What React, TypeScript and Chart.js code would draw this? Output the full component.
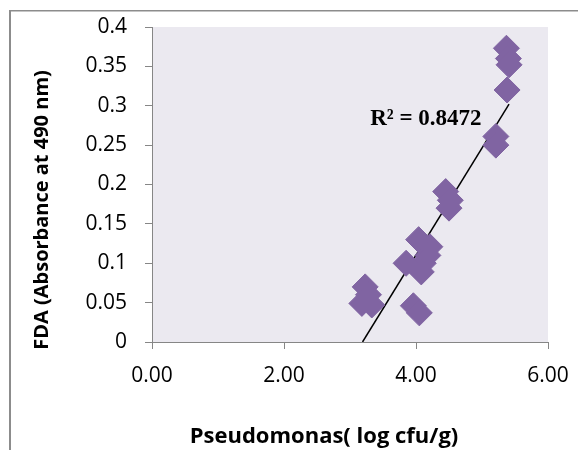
import React, { useEffect, useRef } from "react";
import { Chart, registerables } from "chart.js";

Chart.register(...registerables);

const xValues = [5.37, 5.40, 5.41, 5.38, 5.21, 5.21, 4.45, 4.52, 4.50, 4.04, 4.21, 4.18, 4.11, 3.85, 4.08, 3.23, 3.28, 3.18, 3.33, 3.96, 4.05];
const yValues = [0.373, 0.360, 0.352, 0.320, 0.261, 0.250, 0.191, 0.180, 0.170, 0.130, 0.121, 0.110, 0.100, 0.100, 0.089, 0.070, 0.060, 0.049, 0.047, 0.046, 0.037];
const trendX = [3.19, 5.41];
const trendY = [0, 0.302];
const xTickLabels = ["0.00", "2.00", "4.00", "6.00"];
const yTickLabels = ["0", "0.05", "0.1", "0.15", "0.2", "0.25", "0.3", "0.35", "0.4"];
const r2Label = "R² = 0.8472";
const r2Pos = { x: 4.15, y: 0.283 };
const xTitle = "Pseudomonas( log cfu/g)";
const yTitle = "FDA (Absorbance at 490 nm)";

const decorPlugin = {
  id: "decor",
  beforeDraw(chart: any) {
    const { ctx, chartArea } = chart;
    ctx.save();
    ctx.fillStyle = "#ffffff";
    ctx.fillRect(0, 0, chart.width, chart.height);
    ctx.fillStyle = "#EBE9F0";
    ctx.fillRect(chartArea.left, chartArea.top, chartArea.right - chartArea.left, chartArea.bottom - chartArea.top);
    ctx.restore();
  },
  afterDraw(chart: any) {
    const { ctx, scales } = chart;
    ctx.save();
    ctx.fillStyle = "#8c8c8c";
    ctx.fillRect(9, 10, chart.width - 9, 1.5);
    ctx.fillRect(9, 10, 2, chart.height - 10);
    ctx.fillStyle = "#000";
    ctx.font = "bold 23px 'Liberation Serif', 'Times New Roman', serif";
    ctx.textAlign = "center";
    ctx.textBaseline = "middle";
    ctx.fillText(r2Label, scales.x.getPixelForValue(r2Pos.x), scales.y.getPixelForValue(r2Pos.y));
    ctx.font = "bold 22px 'Open Sans', sans-serif";
    ctx.fillText(xTitle, 324, 437);
    ctx.font = "bold 20px 'Open Sans', sans-serif";
    ctx.translate(42, 210);
    ctx.rotate(-Math.PI / 2);
    ctx.fillText(yTitle, 0, 0);
    ctx.restore();
  },
};

export default function App() {
  const ref = useRef<HTMLCanvasElement>(null);
  useEffect(() => {
    if (!ref.current) return;
    const points = xValues.map((x, i) => ({ x, y: yValues[i] }));
    const trend = trendX.map((x, i) => ({ x, y: trendY[i] }));
    const tickFont = { family: "'Open Sans', sans-serif", size: 21 };
    const chart = new Chart(ref.current, {
      type: "scatter",
      data: {
        datasets: [
          {
            data: points,
            pointStyle: "rectRot",
            pointRadius: 13,
            backgroundColor: "#8064A2",
            borderColor: "#8064A2",
            borderWidth: 1,
          },
          {
            type: "line",
            data: trend,
            borderColor: "#000",
            borderWidth: 1.5,
            pointRadius: 0,
            showLine: true,
            fill: false,
          } as any,
        ],
      },
      plugins: [decorPlugin],
      options: {
        responsive: false,
        animation: false,
        devicePixelRatio: 1,
        layout: { padding: { top: 27, right: 30, left: 0, bottom: 0 } },
        plugins: { legend: { display: false }, tooltip: { enabled: false } },
        scales: {
          x: {
            type: "linear",
            min: 0,
            max: 6,
            afterFit(scale: any) {
              scale.height = 108;
              scale.paddingLeft = 0;
              scale.paddingRight = 0;
            },
            afterBuildTicks(scale: any) {
              scale.ticks = xTickLabels.map((_, i) => ({ value: i * 2 }));
            },
            ticks: {
              callback: (_v: any, i: number) => xTickLabels[i],
              font: tickFont,
              color: "#000",
              padding: 14,
              maxRotation: 0,
            },
            grid: { drawOnChartArea: false, drawTicks: true, tickLength: 7, color: "#868686" },
            border: { color: "#868686", width: 1 },
          },
          y: {
            type: "linear",
            min: 0,
            max: 0.4,
            afterFit(scale: any) {
              scale.width = 152;
              scale.paddingTop = 0;
              scale.paddingBottom = 0;
            },
            afterBuildTicks(scale: any) {
              scale.ticks = yTickLabels.map((_, i) => ({ value: i * 0.05 }));
            },
            ticks: {
              callback: (_v: any, i: number) => yTickLabels[i],
              font: tickFont,
              color: "#000",
              padding: 18,
            },
            grid: { drawOnChartArea: false, drawTicks: true, tickLength: 7, color: "#868686" },
            border: { color: "#868686", width: 1 },
          },
        },
      },
    });
    return () => chart.destroy();
  }, []);
  return (
    <div style={{ position: "absolute", left: 0, top: 0, width: 578, height: 450 }}>
      <canvas ref={ref} width={578} height={450} style={{ width: 578, height: 450 }} />
    </div>
  );
}
